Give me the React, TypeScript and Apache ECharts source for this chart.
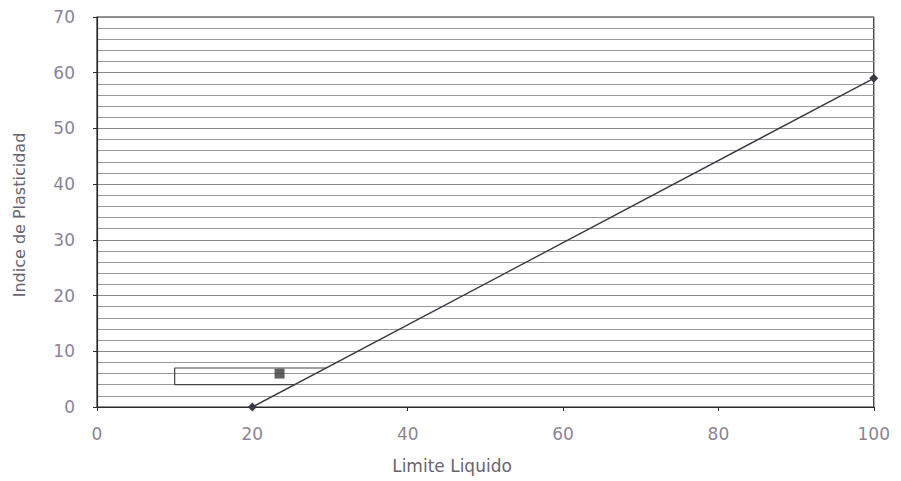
import React, { useEffect, useRef } from "react";
import * as echarts from "echarts";

const xTicks = [0, 20, 40, 60, 80, 100];
const yTicks = [0, 10, 20, 30, 40, 50, 60, 70];
const aLine: [number, number][] = [[20, 0], [100, 59]];
const clmlZone: [number, number][] = [[25.5, 4], [10, 4], [10, 7], [29.6, 7]];
const samplePoint: [number, number][] = [[23.5, 6]];
const xTitle = "Limite Liquido";
const yTitle = "Indice de Plasticidad";

export default function App() {
  const ref = useRef<HTMLDivElement>(null);
  useEffect(() => {
    if (!ref.current) return;
    const chart = echarts.init(ref.current, null, { renderer: "svg" });
    const tickFont = { color: "#8c8494", fontSize: 17, fontFamily: "DejaVu Sans" };
    chart.setOption({
      animation: false,
      backgroundColor: "#ffffff",
      grid: { left: 89, right: 8, top: 9, bottom: 74, show: true, borderColor: "#2a2a2a", borderWidth: 1.2 },
      xAxis: {
        type: "value",
        min: xTicks[0],
        max: xTicks[xTicks.length - 1],
        interval: 20,
        axisLine: { show: true, lineStyle: { color: "#2a2a2a", width: 1.2 } },
        axisTick: { show: true, length: 4, lineStyle: { color: "#2a2a2a" } },
        axisLabel: { ...tickFont, margin: 18 },
        splitLine: { show: false },
      },
      yAxis: {
        type: "value",
        min: yTicks[0],
        max: yTicks[yTicks.length - 1],
        interval: 10,
        axisLine: { show: true, lineStyle: { color: "#2a2a2a", width: 1.2 } },
        axisTick: { show: true, length: 4, lineStyle: { color: "#2a2a2a" } },
        axisLabel: { ...tickFont, margin: 22 },
        splitLine: { show: true, lineStyle: { color: "#8a8a8a", width: 1 } },
        minorTick: { show: false, splitNumber: 5 },
        minorSplitLine: { show: true, lineStyle: { color: "#9a9a9a", width: 1 } },
      },
      graphic: [
        {
          type: "text",
          x: 444,
          y: 458,
          style: {
            text: xTitle,
            fill: "#6a6470",
            fontSize: 17,
            fontFamily: "DejaVu Sans",
            letterSpacing: 1.5,
            textAlign: "center",
            textVerticalAlign: "middle",
          },
        },
        {
          type: "text",
          x: 11,
          y: 207,
          rotation: Math.PI / 2,
          style: {
            text: yTitle,
            fill: "#6a6470",
            fontSize: 16,
            fontFamily: "DejaVu Sans",
            letterSpacing: 1,
            textAlign: "center",
            textVerticalAlign: "middle",
          },
        },
      ],
      series: [
        {
          type: "line",
          data: aLine,
          symbol: "diamond",
          symbolSize: 9,
          itemStyle: { color: "#3a3a44" },
          lineStyle: { color: "#3a3a44", width: 1.4 },
        },
        {
          type: "line",
          data: clmlZone,
          symbol: "none",
          lineStyle: { color: "#444", width: 1.2 },
        },
        {
          type: "scatter",
          data: samplePoint,
          symbol: "rect",
          symbolSize: 10,
          itemStyle: { color: "#3a3a3a" },
        },
      ],
    });
    return () => chart.dispose();
  }, []);
  return <div ref={ref} style={{ width: 885, height: 473 }} />;
}
